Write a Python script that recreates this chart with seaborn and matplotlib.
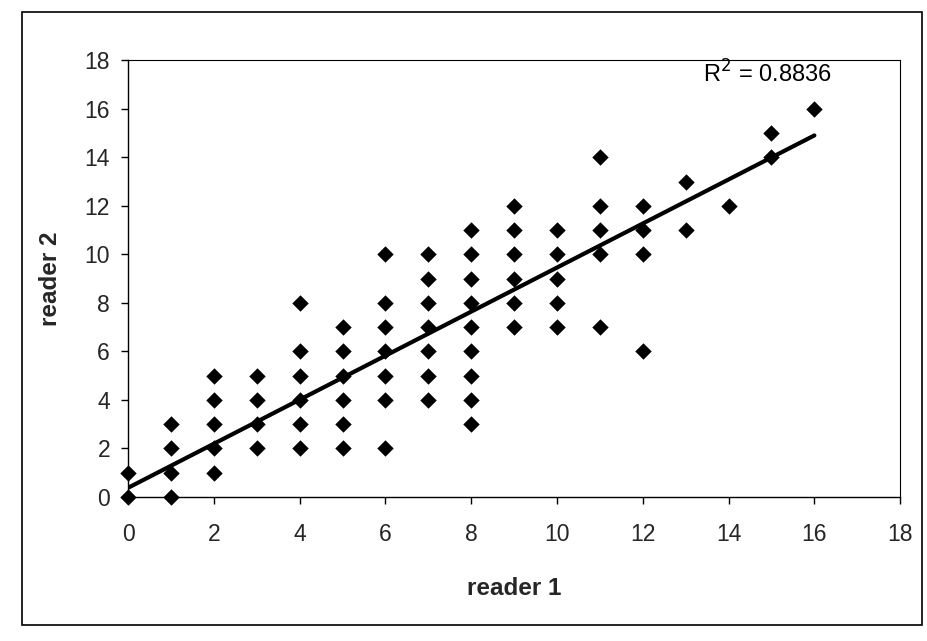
import matplotlib
matplotlib.use("Agg")
import matplotlib.pyplot as plt
import seaborn as sns
import pandas as pd
from matplotlib.patches import Rectangle

# Data (reader 1 score, reader 2 score)
reader1 = [0, 0,
           1, 1, 1, 1,
           2, 2, 2, 2, 2,
           3, 3, 3, 3,
           4, 4, 4, 4, 4, 4,
           5, 5, 5, 5, 5, 5,
           6, 6, 6, 6, 6, 6, 6,
           7, 7, 7, 7, 7, 7, 7,
           8, 8, 8, 8, 8, 8, 8, 8, 8,
           9, 9, 9, 9, 9, 9,
           10, 10, 10, 10, 10,
           11, 11, 11, 11, 11,
           12, 12, 12, 12,
           13, 13,
           14,
           15, 15,
           16]
reader2 = [0, 1,
           0, 1, 2, 3,
           1, 2, 3, 4, 5,
           2, 3, 4, 5,
           2, 3, 4, 5, 6, 8,
           2, 3, 4, 5, 6, 7,
           2, 4, 5, 6, 7, 8, 10,
           4, 5, 6, 7, 8, 9, 10,
           3, 4, 5, 6, 7, 8, 9, 10, 11,
           7, 8, 9, 10, 11, 12,
           7, 8, 9, 10, 11,
           7, 10, 11, 12, 14,
           6, 10, 11, 12,
           11, 13,
           12,
           14, 15,
           16]
# Linear trendline as drawn in the reference (end points)
trend_x = [0, 16]
trend_y = [0.37, 14.9]
r2_label = "R$^2$ = 0.8836"
x_ticks = list(range(0, 19, 2))
y_ticks = list(range(0, 19, 2))

df = pd.DataFrame({"reader 1": reader1, "reader 2": reader2})
trend = pd.DataFrame({"x": trend_x, "y": trend_y})

sns.set_style("white")
plt.rcParams["font.family"] = ["Liberation Sans", "DejaVu Sans"]

fig = plt.figure(figsize=(9.28, 6.41), dpi=100)
ax = fig.add_axes([0.138, 0.225, 0.832, 0.681])

sns.scatterplot(data=df, x="reader 1", y="reader 2", ax=ax,
                marker="D", color="black", s=70, linewidth=0, zorder=3)
sns.lineplot(data=trend, x="x", y="y", ax=ax, color="black",
             linewidth=3.0, zorder=4)

ax.set_xlim(0, 18)
ax.set_ylim(0, 18)
ax.set_xticks(x_ticks)
ax.set_yticks(y_ticks)
ax.tick_params(axis="both", labelsize=16.5, direction="out", length=5,
               width=1, color="black", bottom=True, left=True)
ax.tick_params(axis="x", pad=14)
ax.tick_params(axis="y", pad=8)
for s in ax.spines.values():
    s.set_color("black")
    s.set_linewidth(1.0)
for sp in ("top", "right"):
    ax.spines[sp].set_linewidth(0.8)

ax.set_xlabel("reader 1", fontsize=17.5, fontweight="bold", labelpad=22)
ax.set_ylabel("reader 2", fontsize=17.5, fontweight="bold", labelpad=16)

ax.text(14.9, 17.45, r2_label, fontsize=17, ha="center", va="center",
        color="black")
for c in ax.collections:
    c.set_clip_on(False)

# outer chart frame
fig.patches.append(Rectangle((22 / 928, 1 - 625 / 641), 900 / 928, 613 / 641,
                             transform=fig.transFigure, fill=False,
                             edgecolor="black", linewidth=1.2))

fig.savefig("out.png", dpi=100, facecolor="white")
